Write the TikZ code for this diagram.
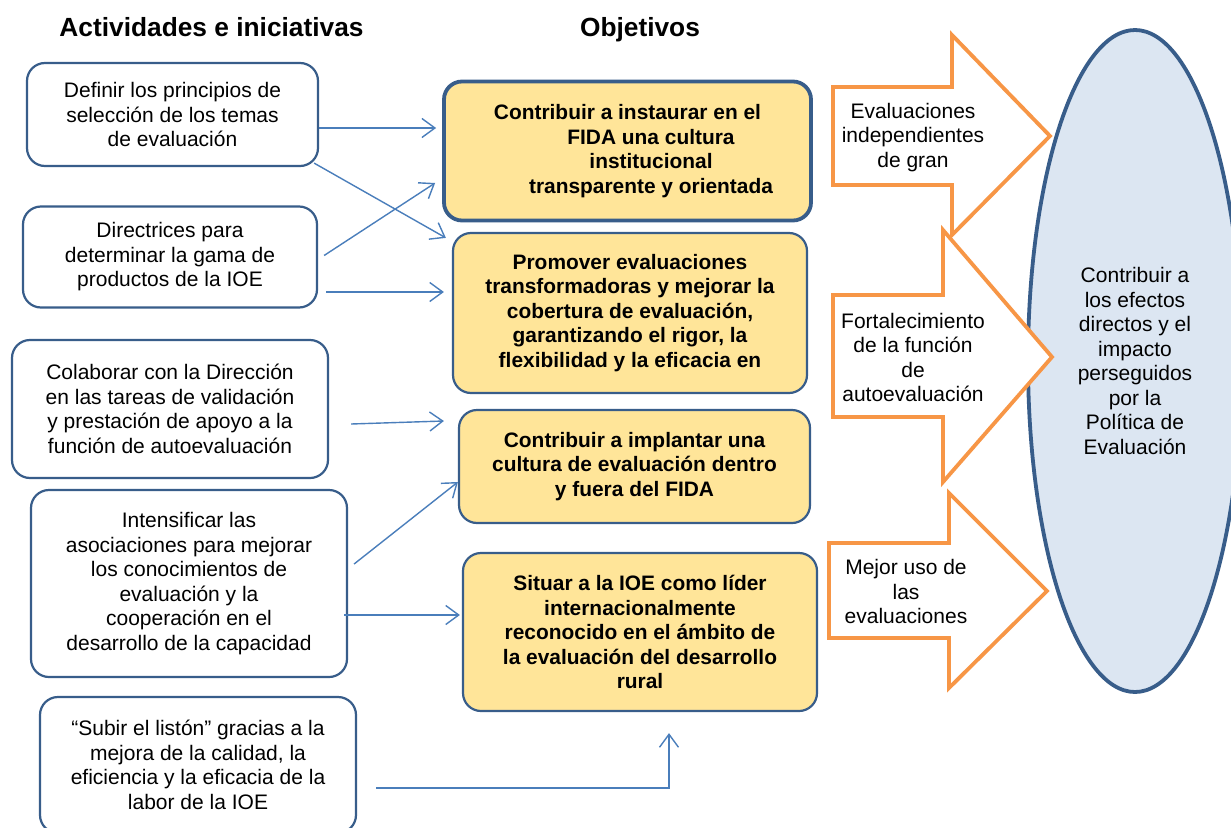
\documentclass[tikz,border=0pt]{standalone}
\usepackage{fontspec}
\setmainfont{Liberation Sans}
\usetikzlibrary{arrows.meta,shapes.geometric}
\definecolor{boxblue}{HTML}{385D8A}
\definecolor{objfill}{HTML}{FFE599}
\definecolor{ellfill}{HTML}{DCE6F2}
\definecolor{arroworange}{HTML}{F79646}
\definecolor{linkblue}{HTML}{4A7EBB}
\newcommand\bodyfs{\fontsize{21}{24.5}\selectfont}
\newcommand\boldfs{\fontsize{20.9}{24.5}\selectfont\bfseries}
\tikzset{
  act/.style={draw=boxblue, line width=2.2pt, rounded corners=18pt, fill=white,
    align=center, font=\bodyfs, inner sep=0pt},
  obj/.style={draw=boxblue, line width=2.2pt, rounded corners=18pt, fill=objfill,
    align=center, font=\boldfs, inner sep=0pt},
  conn/.style={draw=linkblue, line width=1.4pt, -{Straight Barb[length=13pt,width=19pt,line width=1.4pt]}},
  blockarrow/.style={draw=arroworange, line width=3.8pt, fill=white, line join=miter},
  lbl/.style={align=center, font=\bodyfs, inner sep=0pt},
  title/.style={font=\fontsize{26.3}{30}\selectfont\bfseries, inner sep=0pt, anchor=base}
}
\begin{document}
\begin{tikzpicture}[x=1pt,y=-1pt]
\useasboundingbox (0,0) rectangle (1231,827);
\fill[white] (0,0) rectangle (1231,827);

% titles
\node[title] (t1) at (211.5,36.5) {Actividades e iniciativas};
\node[title] (t2) at (640,36.5) {Objetivos};

% activities
\node[act, minimum width=291pt, minimum height=103pt] (A) at (172.5,114.5)
  {Definir los principios de\\selección de los temas\\de evaluación};
\node[act, minimum width=294pt, minimum height=101pt] (B) at (170,257)
  {Directrices para\\determinar la gama de\\productos de la IOE};
\node[act, minimum width=316pt, minimum height=138pt] (C) at (170,409)
  {Colaborar con la Dirección\\en las tareas de validación\\y prestación de apoyo a la\\función de autoevaluación};
\node[act, minimum width=316pt, minimum height=187pt] (D) at (189,583.5)
  {Intensificar las\\asociaciones para mejorar\\los conocimientos de\\evaluación y la\\cooperación en el\\desarrollo de la capacidad};
\node[act, minimum width=316pt, minimum height=136pt] (E) at (198,765)
  {“Subir el listón” gracias a la\\mejora de la calidad, la\\eficiencia y la eficacia de la\\labor de la IOE};

% objectives
\node[obj, line width=3.8pt, minimum width=367pt, minimum height=139pt] (M1) at (627.5,151)
  {\fontsize{20.9}{26}\selectfont\bfseries Contribuir a instaurar en el\\\hspace*{47pt}FIDA una cultura\\\hspace*{47pt}institucional\\\hspace*{47pt}transparente y orientada};
\node[obj, minimum width=354pt, minimum height=160pt] (M2) at (630,313)
  {Promover evaluaciones\\transformadoras y mejorar la\\cobertura de evaluación,\\garantizando el rigor, la\\flexibilidad y la eficacia en};
\node[obj, minimum width=351pt, minimum height=113pt] (M3) at (634.5,466.5)
  {Contribuir a implantar una\\cultura de evaluación dentro\\y fuera del FIDA};
\node[obj, minimum width=354pt, minimum height=158pt] (M4) at (640,632)
  {Situar a la IOE como líder\\internacionalmente\\reconocido en el ámbito de\\la evaluación del desarrollo\\rural};

% ellipse
\node[draw=boxblue, line width=3.8pt, fill=ellfill, ellipse, minimum width=214pt, minimum height=662pt, inner sep=0pt] (G) at (1135,361) {};
\node[lbl] (Gt) at (1135,361) {Contribuir a\\los efectos\\directos y el\\impacto\\perseguidos\\por la\\Política de\\Evaluación};

% block arrows
\draw[blockarrow] (833,87) -- (952,87) -- (952,35) -- (1050,136) -- (952,235) -- (952,185) -- (833,185) -- cycle;
\draw[blockarrow] (833,295) -- (943,295) -- (943,230) -- (1052,357) -- (943,482) -- (943,417) -- (833,417) -- cycle;
\draw[blockarrow] (829,543) -- (949,543) -- (949,493) -- (1047,591) -- (949,688) -- (949,638) -- (829,638) -- cycle;
\node[lbl] (R1) at (913,137.5) {Evaluaciones\\independientes\\de gran};
\node[lbl] (R2) at (913,357.5) {Fortalecimiento\\de la función\\de\\autoevaluación};
\node[lbl] (R3) at (906,591.5) {Mejor uso de\\las\\evaluaciones};

% connectors
\draw[conn] ([yshift=-13.5pt]A.east) -- ([xshift=-6pt,yshift=23pt]M1.west);
\draw[conn] ([xshift=-5pt,yshift=4pt]A.south east) -- ([xshift=-6pt,yshift=-6pt]M2.north west);
\draw[conn] ([xshift=6pt,yshift=1.5pt]B.east) -- ([xshift=-7pt,yshift=-32pt]M1.west);
\draw[conn] ([xshift=8pt,yshift=-35pt]B.east) -- ([xshift=-8pt,yshift=21pt]M2.west);
\draw[conn] ([xshift=22pt,yshift=-15pt]C.east) -- ([xshift=-14pt,yshift=45.5pt]M3.west);
\draw[conn] ([xshift=6pt,yshift=19.5pt]D.east) -- ([xshift=0pt,yshift=-15.5pt]M3.west);
\draw[conn] ([xshift=-4pt,yshift=-31.5pt]D.east) -- ([xshift=-2pt,yshift=17pt]M4.west);
\draw[conn] ([xshift=19pt,yshift=-23pt]E.east) -| ([xshift=29pt,yshift=-21pt]M4.south);
\end{tikzpicture}
\end{document}
